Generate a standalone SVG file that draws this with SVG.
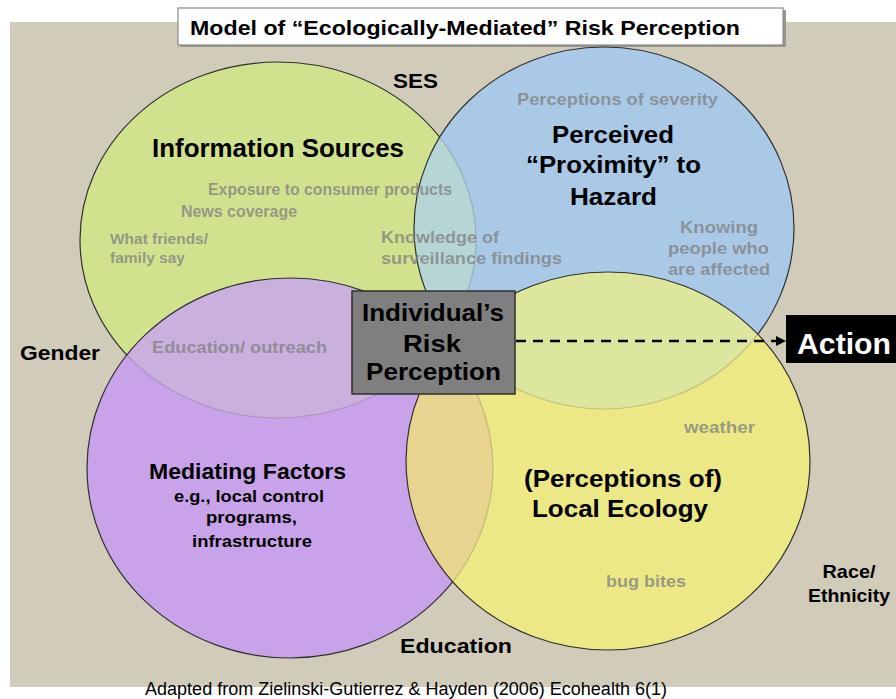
<svg xmlns="http://www.w3.org/2000/svg" width="896" height="699" viewBox="0 0 896 699">
<style>
.t{font-family:"Liberation Sans",Arial,sans-serif;font-weight:bold;fill:#000}
.r{font-family:"Liberation Sans",Arial,sans-serif;fill:#000}
.g{font-family:"Liberation Sans",Arial,sans-serif;font-weight:bold;fill:#7f7f7f;fill-opacity:0.75}
.m{text-anchor:middle}
.dark{fill:none;stroke:#303030;stroke-width:1.2}
.faint{fill:none;stroke:#404040;stroke-opacity:0.22;stroke-width:1.2}
</style>
<defs>
<ellipse id="eG" cx="278" cy="240" rx="198" ry="178"/>
<ellipse id="eB" cx="604" cy="228" rx="190" ry="181"/>
<ellipse id="eP" cx="290" cy="468" rx="203" ry="190"/>
<ellipse id="eY" cx="608" cy="461" rx="202" ry="189"/>
<clipPath id="cB"><use href="#eB"/></clipPath>
<clipPath id="cP"><use href="#eP"/></clipPath>
<clipPath id="cY"><use href="#eY"/></clipPath>
<marker id="ah" viewBox="0 0 10 10" refX="9" refY="5" markerWidth="4" markerHeight="4" orient="auto" markerUnits="strokeWidth">
<path d="M0,0 L10,5 L0,10 Z" fill="#000"/>
</marker>
</defs>
<rect x="10" y="22" width="886" height="665" fill="#d1cbba"/>
<g id="title">
<rect x="180" y="10" width="606" height="37" fill="#9a968c"/>
<rect x="178" y="8" width="605" height="37" fill="#fff" stroke="#8a8a8a" stroke-width="1.2"/>
<text class="t m" x="465" y="35" font-size="21" textLength="550" lengthAdjust="spacingAndGlyphs">Model of “Ecologically-Mediated” Risk Perception</text>
</g>
<g id="information-sources">
<use href="#eG" fill="#d1e28f" stroke="#303030" stroke-width="1.2"/>
</g>
<g id="perceived-proximity">
<use href="#eB" fill="#a9c9e7"/>
<use href="#eG" fill="#b5d6d4" clip-path="url(#cB)"/>
<use href="#eG" class="faint" clip-path="url(#cB)"/>
<use href="#eB" class="dark"/>
</g>
<g id="mediating-factors">
<use href="#eP" fill="#c9a3e9"/>
<use href="#eG" fill="#cab0dd" clip-path="url(#cP)"/>
<use href="#eG" class="faint" clip-path="url(#cP)"/>
<use href="#eP" class="dark"/>
</g>
<g id="local-ecology">
<use href="#eY" fill="#ede886"/>
<use href="#eB" fill="#dce79d" clip-path="url(#cY)"/>
<use href="#eP" fill="#e7d48e" clip-path="url(#cY)"/>
<use href="#eB" class="faint" clip-path="url(#cY)"/>
<use href="#eP" class="faint" clip-path="url(#cY)"/>
<use href="#eY" class="dark"/>
</g>
<g id="labels-info">
<text class="t" x="152" y="157" font-size="25" textLength="252" lengthAdjust="spacingAndGlyphs">Information Sources</text>
<text class="g" x="208" y="195" font-size="16" textLength="244" lengthAdjust="spacingAndGlyphs">Exposure to consumer products</text>
<text class="g" x="181" y="217" font-size="16" textLength="116" lengthAdjust="spacingAndGlyphs">News coverage</text>
<text class="g" x="110" y="244" font-size="14" textLength="98" lengthAdjust="spacingAndGlyphs">What friends/</text>
<text class="g" x="110" y="263" font-size="14" textLength="75" lengthAdjust="spacingAndGlyphs">family say</text>
<text class="g" x="381" y="243" font-size="16" textLength="118" lengthAdjust="spacingAndGlyphs">Knowledge of</text>
<text class="g" x="381" y="264" font-size="16" textLength="181" lengthAdjust="spacingAndGlyphs">surveillance findings</text>
<text class="g" x="152" y="353" font-size="16" textLength="175" lengthAdjust="spacingAndGlyphs">Education/ outreach</text>
</g>
<g id="labels-proximity">
<text class="g" x="517" y="105" font-size="16" textLength="201" lengthAdjust="spacingAndGlyphs">Perceptions of severity</text>
<text class="t m" x="613" y="143" font-size="24" textLength="122" lengthAdjust="spacingAndGlyphs">Perceived</text>
<text class="t m" x="613.5" y="173" font-size="24" textLength="175" lengthAdjust="spacingAndGlyphs">“Proximity” to</text>
<text class="t m" x="613.5" y="205" font-size="24" textLength="87" lengthAdjust="spacingAndGlyphs">Hazard</text>
<text class="g m" x="719" y="233" font-size="17" textLength="78" lengthAdjust="spacingAndGlyphs">Knowing</text>
<text class="g m" x="718.5" y="254" font-size="17" textLength="101" lengthAdjust="spacingAndGlyphs">people who</text>
<text class="g m" x="719" y="275" font-size="17" textLength="102" lengthAdjust="spacingAndGlyphs">are affected</text>
</g>
<g id="labels-mediating">
<text class="t m" x="247.5" y="479" font-size="22" textLength="197" lengthAdjust="spacingAndGlyphs">Mediating Factors</text>
<text class="t m" x="249" y="502" font-size="17" textLength="150" lengthAdjust="spacingAndGlyphs">e.g., local control</text>
<text class="t m" x="251.5" y="523" font-size="17" textLength="91" lengthAdjust="spacingAndGlyphs">programs,</text>
<text class="t m" x="252" y="547" font-size="17" textLength="120" lengthAdjust="spacingAndGlyphs">infrastructure</text>
</g>
<g id="labels-ecology">
<text class="t m" x="623" y="487" font-size="24" textLength="198" lengthAdjust="spacingAndGlyphs">(Perceptions of)</text>
<text class="t m" x="620" y="517" font-size="24" textLength="176" lengthAdjust="spacingAndGlyphs">Local Ecology</text>
<text class="g" x="684" y="433" font-size="16" textLength="71" lengthAdjust="spacingAndGlyphs">weather</text>
<text class="g" x="606" y="587" font-size="16" textLength="80" lengthAdjust="spacingAndGlyphs">bug bites</text>
</g>
<g id="context-labels">
<text class="t" x="393" y="88" font-size="21" textLength="45" lengthAdjust="spacingAndGlyphs">SES</text>
<text class="t" x="20" y="360" font-size="21" textLength="80" lengthAdjust="spacingAndGlyphs">Gender</text>
<text class="t" x="400" y="653" font-size="21" textLength="112" lengthAdjust="spacingAndGlyphs">Education</text>
<text class="t m" x="849" y="578" font-size="19" textLength="53" lengthAdjust="spacingAndGlyphs">Race/</text>
<text class="t m" x="849" y="602" font-size="19" textLength="82" lengthAdjust="spacingAndGlyphs">Ethnicity</text>
</g>
<g id="connectors">
<line x1="516" y1="341" x2="785" y2="341" stroke="#000" stroke-width="2.5" stroke-dasharray="10 7" marker-end="url(#ah)"/>
</g>
<g id="risk-perception">
<rect x="352" y="291" width="163" height="103" fill="#7f7f7f" stroke="#303030" stroke-width="1.5"/>
<text class="t m" x="433" y="321" font-size="24" textLength="142" lengthAdjust="spacingAndGlyphs">Individual’s</text>
<text class="t m" x="432" y="352" font-size="24" textLength="58" lengthAdjust="spacingAndGlyphs">Risk</text>
<text class="t m" x="433.5" y="380" font-size="24" textLength="135" lengthAdjust="spacingAndGlyphs">Perception</text>
</g>
<g id="action">
<rect x="786" y="315" width="110" height="48" fill="#000"/>
<text class="t" x="797" y="354" font-size="30" textLength="94" lengthAdjust="spacingAndGlyphs" style="fill:#fff">Action</text>
</g>
<g id="caption">
<text class="r" x="145" y="695" font-size="18" textLength="522" lengthAdjust="spacingAndGlyphs">Adapted from Zielinski-Gutierrez &amp; Hayden (2006) Ecohealth 6(1)</text>
</g>
</svg>
